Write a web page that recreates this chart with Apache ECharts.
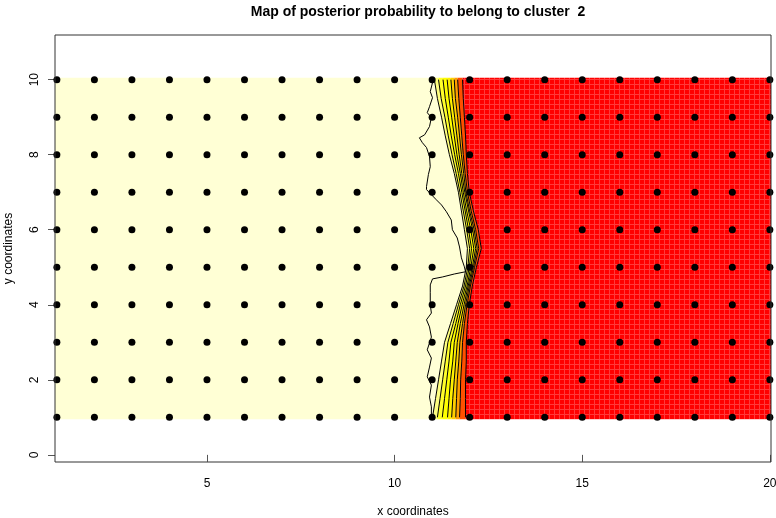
<!DOCTYPE html>
<html>
<head>
<meta charset="utf-8">
<script src="https://cdn.jsdelivr.net/npm/echarts@6/dist/echarts.min.js"></script>
<style>html,body{margin:0;padding:0;background:#fff}#c{width:776px;height:518px}</style>
</head>
<body>
<div id="c"></div>
<script>
// ---- data ----
const gridX = [1,2,3,4,5,6,7,8,9,10,11,12,13,14,15,16,17,18,19,20];
const gridY = [1,2,3,4,5,6,7,8,9,10];
const xTicks = [5,10,15,20];
const yTicks = [0,2,4,6,8,10];
// rows (y) at which the contour x-positions were read
const rowsY = [1,1.5,2,2.5,3,3.5,4,4.5,5,5.5,6,6.5,7,7.5,8,8.5,9,9.5,10];
// contour lines of posterior probability (x position per row), left to right
const contour1 = [11.01,11.09,11.17,11.25,11.33,11.49,11.65,11.81,11.91,11.94,11.86,11.78,11.70,11.59,11.46,11.35,11.25,11.14,11.06];
const contour2 = [11.14,11.21,11.28,11.35,11.42,11.56,11.70,11.85,11.95,12.00,11.92,11.83,11.74,11.64,11.53,11.43,11.34,11.24,11.17];
const contour3 = [11.27,11.33,11.39,11.45,11.50,11.63,11.75,11.89,11.99,12.05,11.97,11.88,11.79,11.70,11.60,11.51,11.43,11.35,11.29];
const contour4 = [11.41,11.45,11.49,11.55,11.59,11.69,11.80,11.93,12.03,12.11,12.03,11.92,11.83,11.75,11.66,11.59,11.52,11.45,11.40];
const contour5 = [11.52,11.55,11.59,11.63,11.67,11.75,11.85,11.96,12.07,12.16,12.08,11.97,11.87,11.79,11.72,11.66,11.60,11.54,11.50];
const contour6 = [11.63,11.65,11.67,11.71,11.74,11.81,11.89,11.99,12.10,12.20,12.12,12.00,11.90,11.84,11.78,11.73,11.68,11.62,11.59];
const contour7 = [11.73,11.75,11.76,11.79,11.81,11.86,11.93,12.02,12.13,12.24,12.16,12.04,11.94,11.88,11.83,11.79,11.75,11.71,11.68];
const contour8 = [11.89,11.89,11.89,11.91,11.91,11.94,11.99,12.07,12.18,12.31,12.23,12.10,11.99,11.94,11.91,11.89,11.86,11.83,11.81];
// the irregular low-probability contour on the left of the transition
const wigglyX = [11.06,11.01,10.95,11.01,10.93,10.87,10.98,10.93,10.80,10.66,10.74,10.85,10.93,10.95,10.90,10.85,10.85,11.11,11.25,11.38,11.51,11.54,11.67,11.73,11.78,11.86,11.89,11.59,11.27,11.01,10.95,10.95,10.95,10.98,10.85,10.93,10.98,10.87,10.98,10.93,10.87,10.98,10.93,10.98,10.98];
const wigglyY = [10.00,9.92,9.68,9.52,9.28,9.12,8.99,8.75,8.53,8.45,8.32,8.19,7.95,7.68,7.47,7.15,7.07,6.80,6.66,6.48,6.26,6.00,5.78,5.54,5.25,5.01,4.88,4.82,4.74,4.69,4.53,4.32,4.00,3.78,3.60,3.41,3.14,2.80,2.58,2.34,2.08,1.86,1.54,1.28,1.00];
const bandColors = ['#FFFFD5','#FFFF80','#FFFF2A','#FFFF00','#FFEF00','#FFCF00','#FF9F00','#FF5000','#FF0000'];

// ---- build ----
const contours = [contour1,contour2,contour3,contour4,contour5,contour6,contour7,contour8];
const X_MIN = 0.95, X_MAX = 20.03, Y_MIN = -0.19, Y_MAX = 11.19;
const IMG_Y0 = 0.95, IMG_Y1 = 10.05;

function redPattern(){
  const c = document.createElement('canvas'); c.width = 5; c.height = 5;
  const g = c.getContext('2d');
  g.fillStyle = '#FF0000'; g.fillRect(0,0,5,5);
  g.fillStyle = '#FF3A3A'; g.fillRect(4,0,1,5); g.fillRect(0,4,5,1);
  return c;
}
const redFill = {image: redPattern(), repeat: 'repeat'};

function edgePoints(arr){
  const pts = [[arr[0], IMG_Y0]];
  for (let i=0;i<rowsY.length;i++) pts.push([arr[i], rowsY[i]]);
  pts.push([arr[arr.length-1], IMG_Y1]);
  return pts;
}
const leftEdge = edgePoints(rowsY.map(()=>X_MIN));
const rightEdge = edgePoints(rowsY.map(()=>X_MAX));
const boundaries = [leftEdge].concat(contours.map(edgePoints)).concat([rightEdge]);
const bandData = bandColors.map((c,i)=>[i]);

const scatterData = [];
gridY.forEach(y=>gridX.forEach(x=>scatterData.push([x,y])));

const series = [{
  type: 'custom',
  data: bandData,
  clip: true,
  silent: true,
  z: 1,
  renderItem: function(params, api){
    const i = api.value(0);
    const a = boundaries[i], b = boundaries[i+1];
    const pts = a.map(p=>api.coord(p)).concat(b.slice().reverse().map(p=>api.coord(p)));
    return {type:'polygon', shape:{points: pts}, style:{fill: i === bandColors.length-1 ? redFill : bandColors[i], stroke: null}};
  }
}];
contours.forEach(arr=>{
  series.push({type:'line', data: rowsY.map((y,i)=>[arr[i], y]), showSymbol:false, silent:true, z:3,
    lineStyle:{color:'#000', width:1}});
});
series.push({type:'line', data: wigglyX.map((x,i)=>[x, wigglyY[i]]), showSymbol:false, silent:true, z:3,
  lineStyle:{color:'#000', width:1}});
series.push({type:'scatter', data: scatterData, symbol:'circle', symbolSize:7, silent:true, z:5,
  itemStyle:{color:'#000', opacity:1}});

const chart = echarts.init(document.getElementById('c'), null, {renderer:'canvas'});
chart.setOption({
  animation: false,
  backgroundColor: '#fff',
  title: {text: 'Map of posterior probability to belong to cluster  2', left: 413, textAlign: 'center', top: 0,
    textStyle: {fontFamily: 'Liberation Sans', fontWeight: 'bold', fontSize: 14, color: '#000'}},
  grid: {left: 55, right: 5, top: 35, bottom: 56, outerBoundsMode: 'none', containLabel: false,
    show: true, borderColor: '#333', borderWidth: 1, backgroundColor: 'transparent', z: 10},
  xAxis: {type: 'value', min: X_MIN, max: X_MAX,
    name: 'x coordinates', nameLocation: 'middle', nameGap: 44,
    nameTextStyle: {fontFamily: 'Liberation Sans', fontSize: 12, color: '#000'},
    axisLine: {show: false}, splitLine: {show: false},
    axisTick: {show: true, length: 7, customValues: xTicks, lineStyle: {color: '#555'}},
    axisLabel: {customValues: xTicks, margin: 16, fontFamily: 'Liberation Sans', fontSize: 12, color: '#000'}},
  yAxis: {type: 'value', min: Y_MIN, max: Y_MAX,
    name: 'y coordinates', nameLocation: 'middle', nameGap: 40,
    nameTextStyle: {fontFamily: 'Liberation Sans', fontSize: 12, color: '#000'},
    axisLine: {show: false}, splitLine: {show: false},
    axisTick: {show: true, length: 7, customValues: yTicks, lineStyle: {color: '#555'}},
    axisLabel: {customValues: yTicks, rotate: 90, margin: 14, fontFamily: 'Liberation Sans', fontSize: 12, color: '#000'}},
  series: series
});
</script>
</body>
</html>
